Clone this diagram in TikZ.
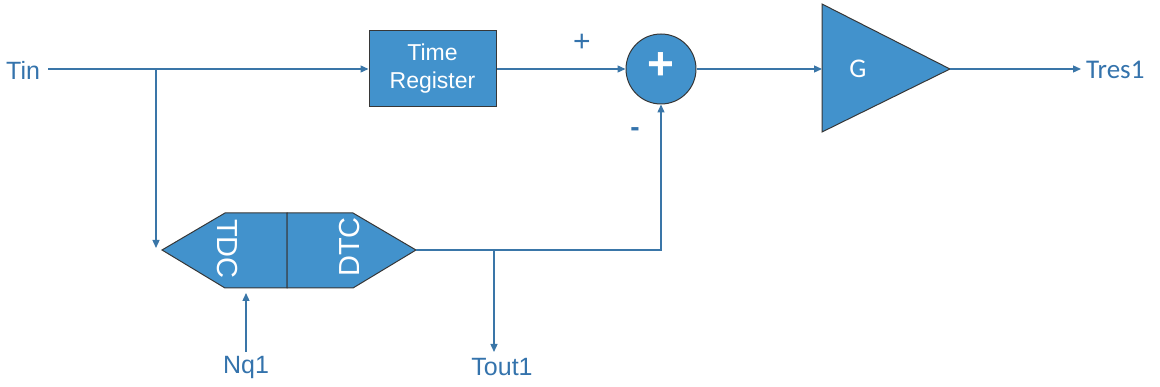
\documentclass[tikz,border=0pt]{standalone}
\usepackage{fontspec}
\setmainfont{Liberation Sans}
\newfontfamily\calfont{Carlito}
\usetikzlibrary{arrows.meta,calc}
\definecolor{blockfill}{RGB}{66,146,204}
\definecolor{wire}{RGB}{58,118,168}
\definecolor{labelblue}{RGB}{52,115,172}
\definecolor{edge}{RGB}{55,55,55}
\tikzset{
  wireline/.style={draw=wire,line width=1.3pt},
  sig/.style={wireline,-{Triangle[length=8pt,width=7pt]}},
  blockshape/.style={fill=blockfill,draw=edge,line width=1pt,line join=miter},
  lbl/.style={text=labelblue,inner sep=0pt,font=\fontsize{25}{28}\selectfont},
  inner/.style={text=white,inner sep=0pt},
}
\begin{document}
\begin{tikzpicture}[x=1pt,y=-1pt]
\useasboundingbox (0,0) rectangle (1160,387);

% input label and branch point
\node[lbl,anchor=west] (tin) at (6,70) {Tin};
\coordinate (tinend) at (48,69);
\coordinate (split) at (156,69);

% time register block
\node[blockshape,minimum width=127pt,minimum height=76pt,inner sep=0pt,
      text=white,align=center,font=\fontsize{23}{28}\selectfont] (treg) at (432.5,69) {Time\\Register};

% summing junction
\node[blockshape,circle,minimum size=70pt,inner sep=0pt] (sum) at (661,69) {};
\node[inner,font=\fontsize{46}{46}\selectfont\bfseries] at (661,66) {+};
\node[lbl,font=\fontsize{30}{30}\selectfont] (plus) at (582,43) {+};
\node[lbl,font=\fontsize{28}{28}\selectfont\bfseries] (minus) at (635,132) {-};

% gain stage
\coordinate (gin) at (822,69);
\coordinate (gout) at (950,69);
\draw[blockshape] (822,4) -- (950,69) -- (822,132) -- cycle;
\node[inner,font=\calfont\fontsize{27}{27}\selectfont] (g) at (858,69) {G};
\node[lbl,anchor=west,font=\calfont\fontsize{27}{28}\selectfont] (tres) at (1086,70) {Tres1};
\coordinate (tresend) at (1081,69);

% TDC / DTC pair
\coordinate (tdcin) at (162,250);
\coordinate (dtcout) at (416,250);
\draw[blockshape] (162,250) -- (225,213) -- (287,213) -- (287,288) -- (225,288) -- cycle;
\draw[blockshape] (287,213) -- (353,213) -- (416,250) -- (353,288) -- (287,288) -- cycle;
\node[inner,rotate=-90,font=\fontsize{29}{29}\selectfont] (tdc) at (227,249) {TDC};
\node[inner,rotate=90,font=\fontsize{29}{29}\selectfont] (dtc) at (350,247) {DTC};

% bottom labels
\node[lbl] (nq) at (246,367) {Nq1};
\node[lbl] (tout) at (502,367) {Tout1};
\coordinate (nqstart) at (246,352);
\coordinate (nqend) at (246,293);
\coordinate (tap) at (494,250);
\coordinate (toutend) at (494,352);
\coordinate (tdcarrow) at (156,248);
\coordinate (corner) at (661,250);

% connections
\draw[sig] (tinend) -- (treg.west);
\draw[sig] (split) -- (tdcarrow);
\draw[sig] (treg.east) -- (sum.west);
\draw[sig] (dtcout) -- (corner) -- (sum.south);
\draw[sig] (tap) -- (toutend);
\draw[sig] (nqstart) -- (nqend);
\draw[sig] (sum.east) -- (gin);
\draw[sig] (gout) -- (tresend);
\end{tikzpicture}
\end{document}
